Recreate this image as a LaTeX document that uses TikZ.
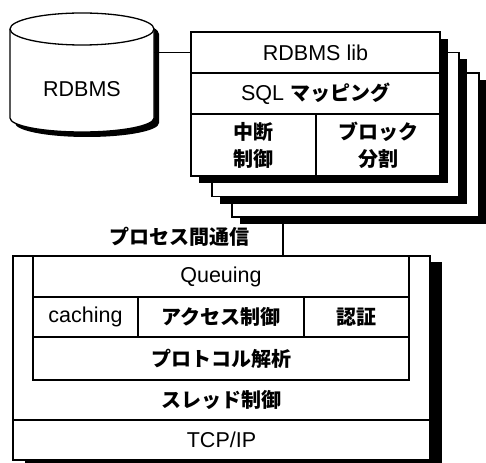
\documentclass[tikz,border=0pt]{standalone}
\usepackage{fontspec}
\setmainfont{Liberation Sans}
\newfontfamily\jp{Noto Sans CJK JP}
\usepackage{tikz}
\usetikzlibrary{shadows}

\tikzset{
  lbl/.style={inner sep=0pt, outer sep=0pt, align=center,
    font=\fontsize{21.5}{27}\selectfont},
  cell/.style={lbl, draw=black, fill=white, line width=1.3pt},
  sheet/.style={cell, general shadow={fill=black, shadow xshift=8pt, shadow yshift=-7pt}},
}
\newcommand{\ja}[1]{{\jp\bfseries\fontsize{20}{27}\selectfont #1}}

\begin{document}
\begin{tikzpicture}[x=1pt, y=-1pt, line width=1.3pt]

\useasboundingbox (0,0) rectangle (486,462);

% RDBMS cylinder
\fill[black, shift={(5,5)}] (10,29) arc[start angle=180, end angle=360, x radius=72, y radius=16]
  -- (154,118) arc[start angle=0, end angle=180, x radius=72, y radius=14] -- cycle;
\filldraw[fill=white, draw=black] (10,29) arc[start angle=180, end angle=360, x radius=72, y radius=16]
  -- (154,118) arc[start angle=0, end angle=180, x radius=72, y radius=14] -- cycle;
\draw (10,29) arc[start angle=180, end angle=0, x radius=72, y radius=16];
\path
(82,89) node[lbl, minimum width=144pt] (db) {RDBMS};

%
% Library sheets
%
\path
(355.5,145) node[sheet, minimum width=247pt, minimum height=144pt] (back2) {};
\path
(335.5,124.5) node[sheet, minimum width=247pt, minimum height=144pt] (back1) {};
\path
(315.5,104) node[sheet, minimum width=249pt, minimum height=144pt] (front) {};

% rows of the front sheet
\path
(315.5,52.5) node[cell, minimum width=249pt, minimum height=41pt] (lib) {RDBMS lib};
\path
(315.5,93.5) node[cell, minimum width=249pt, minimum height=41pt] (sql) {SQL \ja{マッピング}};
\path
(253.5,145) node[cell, minimum width=125pt, minimum height=62pt] (intr) {\ja{中断}\\\ja{制御}};
\path
(378,145) node[cell, minimum width=124pt, minimum height=62pt] (blk) {\ja{ブロック}\\\ja{分割}};

% cylinder to lib
\draw (db.east |- lib.west) -- (lib.west);

%
% Server block
%
\path
(221.5,358) node[cell, minimum width=417pt, minimum height=204pt,
  general shadow={fill=black, shadow xshift=12pt, shadow yshift=-6pt}] (srv) {};

\path
(221,276.5) node[cell, minimum width=376pt, minimum height=41pt] (queue) {Queuing};
\path
(85.5,317) node[cell, minimum width=105pt, minimum height=40pt] (cache) {caching};
\path
(221,317) node[cell, minimum width=166pt, minimum height=40pt] (acc) {\ja{アクセス制御}};
\path
(356.5,317) node[cell, minimum width=105pt, minimum height=40pt] (auth) {\ja{認証}};
\path
(221,358.5) node[cell, minimum width=376pt, minimum height=43pt] (proto) {\ja{プロトコル解析}};

\path
(221.5,400) node[lbl] (thr) {\ja{スレッド制御}};
\path
(221.5,440) node[cell, minimum width=417pt, minimum height=40pt] (tcp) {TCP/IP};

% IPC link
\coordinate (ipcx) at (283,0);
\draw (back2.south -| ipcx) -- (srv.north -| ipcx);
\path
(179,237) node[lbl] (ipc) {\ja{プロセス間通信}};

\end{tikzpicture}
\end{document}
